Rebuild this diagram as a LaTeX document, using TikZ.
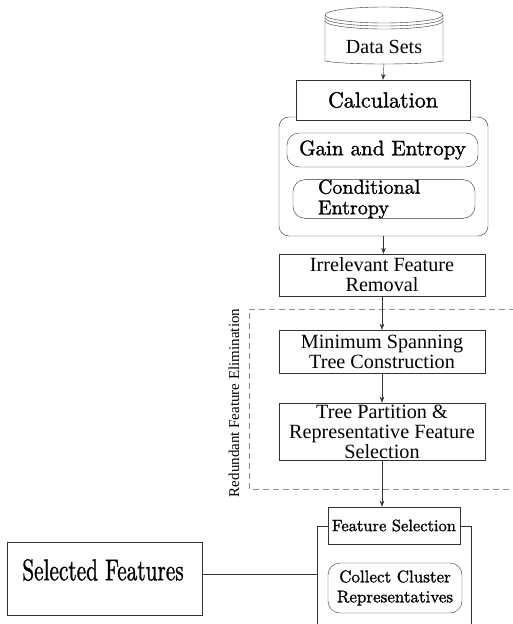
\documentclass[tikz,border=0pt]{standalone}
\usepackage{fontspec}
\usepackage{graphicx}
\usetikzlibrary{arrows.meta}
\newfontfamily\timesrm{Liberation Serif}
\newfontfamily\goudy{lmroman10-regular.otf}[FakeBold=1.2]

\tikzset{
    procbox/.style={draw=black!80, fill=white, align=center, inner sep=0pt, font=\timesrm\fontsize{20.2}{20}\selectfont},
    goudybox/.style={draw=black!80, fill=white, align=center, inner sep=0pt, font=\goudy\fontsize{22}{22}\selectfont},
    softbox/.style={goudybox, rounded corners=12pt},
    flow/.style={draw=black!80, -{Stealth[length=6pt,width=4.5pt]}},
}

\begin{document}
\begin{tikzpicture}[x=1pt, y=-1pt]
        \useasboundingbox (0,0) rectangle (512,624);

        % Data sets
        \draw[black!80, fill=white] (325,15) -- (325,61) .. controls (345,65) and (423,65) .. (443,61) -- (443,15);
        \draw[black!80] (384,15) ellipse (59 and 8);
        \foreach \d in {3,6} {
            \draw[black!80] (325,15+\d) arc (180:0:59 and 8);
        }
        \node[font=\timesrm\fontsize{20}{20}\selectfont] (data) at (384,47) {Data Sets};
        \coordinate (dbot) at (384,63);

        % Calculation
        \node[draw=black!80, rounded corners=10pt, minimum width=209pt, minimum height=119pt] (calcgroup) at (383.5,176.5) {};
        \node[goudybox, minimum width=174pt, minimum height=40pt] (calc) at (383,100) {Calculation};
        \node[softbox, font=\goudy\fontsize{21}{21}\selectfont, minimum width=191pt, minimum height=34pt] (gain) at (382.5,150) {Gain and Entropy};
        \node[softbox, font=\goudy\fontsize{20}{20.5}\selectfont, minimum width=182pt, minimum height=38pt, text width=132pt, align=left] (cond) at (384,199) {Conditional\\Entropy};

        % Removal and elimination
        \node[procbox, minimum width=206pt, minimum height=42pt] (irr) at (382,275) {Irrelevant Feature\\Removal};
        \draw[black!45, line width=0.9pt, dash pattern=on 6pt off 4pt] (515,309) -- (249,309) -- (249,489) -- (515,489);
        \node[rotate=90, font=\timesrm\fontsize{15}{16}\selectfont] (redund) at (234,403) {Redundant Feature Elimination};
        \node[procbox, minimum width=206pt, minimum height=43pt] (mst) at (382,351.5) {Minimum Spanning\\Tree Construction};
        \node[procbox, minimum width=206pt, minimum height=57pt] (tree) at (382,431.5) {Tree Partition \&\\Representative Feature\\Selection};

        % Feature selection
        \draw[black!80] (317,630) -- (317,526) -- (471,526) -- (471,630);
        \coordinate (bracketw) at (317,574);
        \node[goudybox, font=\goudy\fontsize{16.5}{18}\selectfont, minimum width=132pt, minimum height=37pt] (featsel) at (394,525.5) {Feature Selection};
        \node[softbox, font=\goudy\fontsize{17}{20}\selectfont, minimum width=134pt, minimum height=50pt] (collect) at (395,588) {Collect Cluster\\Representatives};

        \node[draw=black!80, minimum width=195pt, minimum height=73pt] (selbox) at (104.5,578.5) {};
        \node (seltext) at (103,570) {\scalebox{0.71}[1]{\goudy\fontsize{30}{32}\selectfont Selected Features}};

        % Connectors
        \draw[flow] (dbot) -- (calc.north);
        \draw[flow] (calcgroup.south) -- (calcgroup.south |- irr.north);
        \draw[flow] (irr.south) -- (mst.north);
        \draw[flow] (mst.south) -- (tree.north);
        \draw[flow] (tree.south) -- (tree.south |- featsel.north);
        \draw[black!80] (selbox.east |- bracketw) -- (bracketw);
\end{tikzpicture}
\end{document}
